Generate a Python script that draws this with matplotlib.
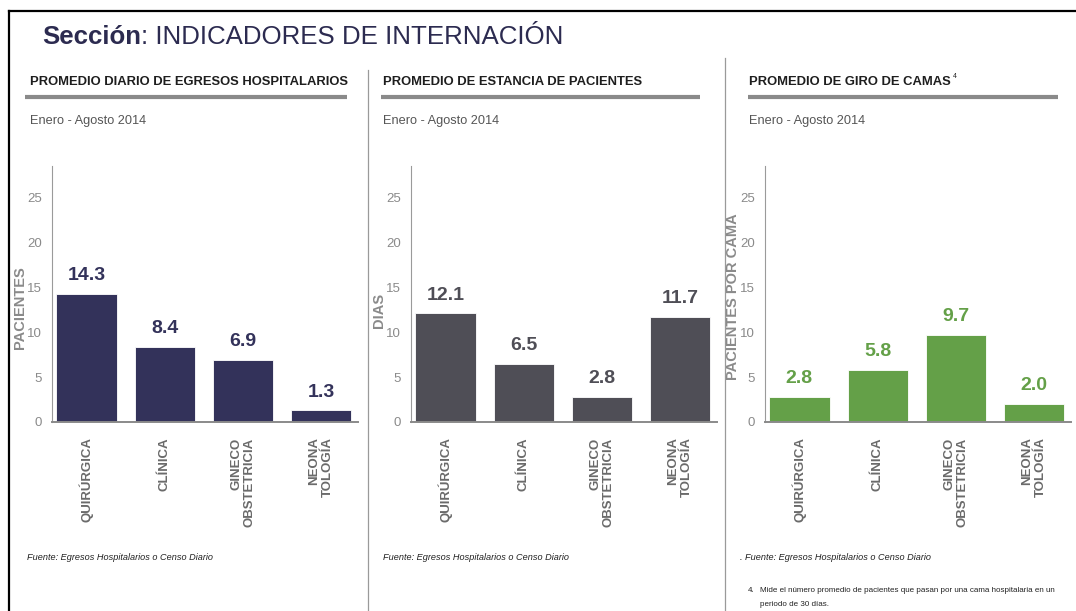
import matplotlib
matplotlib.use("Agg")
import matplotlib.pyplot as plt
from matplotlib.lines import Line2D

W, H = 1076, 611

categorias = ["QUIRÚRGICA", "CLÍNICA", "GINECO\nOBSTETRICIA", "NEONA\nTOLOGÍA"]
egresos = [14.3, 8.4, 6.9, 1.3]
estancia = [12.1, 6.5, 2.8, 11.7]
giro = [2.8, 5.8, 9.7, 2.0]
y_ticks = [0, 5, 10, 15, 20, 25]

paneles = [
    ("PROMEDIO DIARIO DE EGRESOS HOSPITALARIOS", "PACIENTES", egresos, "#33325a"),
    ("PROMEDIO DE ESTANCIA DE PACIENTES", "DIAS", estancia, "#4f4e56"),
    ("PROMEDIO DE GIRO DE CAMAS", "PACIENTES POR CAMA", giro, "#64a048"),
]

NARROW = ["Liberation Sans Narrow", "Liberation Sans", "DejaVu Sans"]
SANS = ["Liberation Sans", "DejaVu Sans"]


def fx(x):
    return x / W


def fy(y):
    return 1 - y / H


fig = plt.figure(figsize=(W / 100, H / 100), dpi=100)
fig.patch.set_facecolor("white")

# marco y divisores
fig.add_artist(Line2D([fx(9), fx(9)], [fy(11), fy(611)], color="black", lw=1.6))
fig.add_artist(Line2D([fx(9), fx(1076)], [fy(11), fy(11)], color="black", lw=1.6))
fig.add_artist(Line2D([fx(368), fx(368)], [fy(70), fy(611)], color="#9a9a9a", lw=0.9))
fig.add_artist(Line2D([fx(725), fx(725)], [fy(58), fy(611)], color="#9a9a9a", lw=0.9))

# titulo de la seccion
t1 = fig.text(fx(42), fy(37), "Sección", fontsize=18.6, fontweight="bold",
              color="#2c2b50", family=NARROW, va="center")
renderer = fig.canvas.get_renderer()
bb = t1.get_window_extent(renderer)
fig.text(bb.x1 / W, fy(37), ": INDICADORES DE INTERNACIÓN", fontsize=18.6,
         color="#2c2b50", family=NARROW, va="center")

tit_x = [30, 383, 749]
line_x = [(25, 347), (381, 700), (748, 1058)]
ax_left = [52, 411, 765]
ylab_pos = [(20, 308), (379, 310), (733, 297)]
fuente_x = [27, 383, 740]

for i, (titulo, ylab, valores, color) in enumerate(paneles):
    t = fig.text(fx(tit_x[i]), fy(82), titulo, fontsize=9.4, fontweight="bold",
                 color="#1e1e1e", family=NARROW, va="center")
    if i == 2:
        b = t.get_window_extent(renderer)
        fig.text(b.x1 / W + 0.002, fy(77), "4", fontsize=5, color="#222222",
                 family=NARROW, va="center")
    fig.add_artist(Line2D([fx(line_x[i][0]), fx(line_x[i][1])], [fy(97), fy(97)],
                          color="#8a8a8a", lw=3.0, solid_capstyle="butt"))
    fig.text(fx(tit_x[i]), fy(121), "Enero - Agosto 2014", fontsize=9.2,
             color="#555555", family=NARROW, va="center")

    ax = fig.add_axes([fx(ax_left[i]), fy(422), 306 / W, 256 / H])
    x = list(range(len(categorias)))
    ax.bar(x, valores, width=0.77, color=color, edgecolor="white", linewidth=0.6)
    for xi, v in zip(x, valores):
        ax.annotate(f"{v:.1f}", (xi, v), xytext=(0, 7), textcoords="offset points",
                    ha="center", va="bottom", fontsize=14, fontweight="bold",
                    color=color, family=NARROW)
    ax.set_xlim(-0.44, 3.47)
    ax.set_ylim(0, 28.5)
    ax.set_yticks(y_ticks)
    ax.set_yticklabels([str(v) for v in y_ticks], fontsize=9.5, color="#8a8a8a",
                       family=NARROW)
    ax.set_xticks(x)
    ax.set_xticklabels(categorias, rotation=90, fontsize=9.5, fontweight="bold",
                       color="#6a6a6a", family=SANS, va="top", ha="center",
                       multialignment="right")
    ax.tick_params(axis="both", length=0)
    ax.tick_params(axis="y", pad=7)
    ax.tick_params(axis="x", pad=11)
    for s in ["top", "right"]:
        ax.spines[s].set_visible(False)
    ax.spines["left"].set_color("#9a9a9a")
    ax.spines["bottom"].set_color("#8a8a8a")
    ax.spines["bottom"].set_linewidth(1.4)
    ax.set_facecolor("none")

    fig.text(fx(ylab_pos[i][0]), fy(ylab_pos[i][1]), ylab, rotation=90,
             fontsize=10.5, fontweight="bold", color="#8a8a8a", family=SANS,
             ha="center", va="center")

    pref = ". " if i == 2 else ""
    fig.text(fx(fuente_x[i]), fy(558), pref + "Fuente: Egresos Hospitalarios o Censo Diario",
             fontsize=6.6, style="italic", color="#222222", family=NARROW, va="center")

fig.text(fx(748), fy(590), "4.", fontsize=5.8, color="#222222", family=NARROW,
         va="center")
fig.text(fx(760), fy(590),
         "Mide el número promedio de pacientes que pasan por una cama hospitalaria en un",
         fontsize=5.8, color="#222222", family=NARROW, va="center")
fig.text(fx(760), fy(604), "periodo de 30 días.", fontsize=5.8, color="#222222",
         family=NARROW, va="center")

fig.savefig("out.png", dpi=100)
